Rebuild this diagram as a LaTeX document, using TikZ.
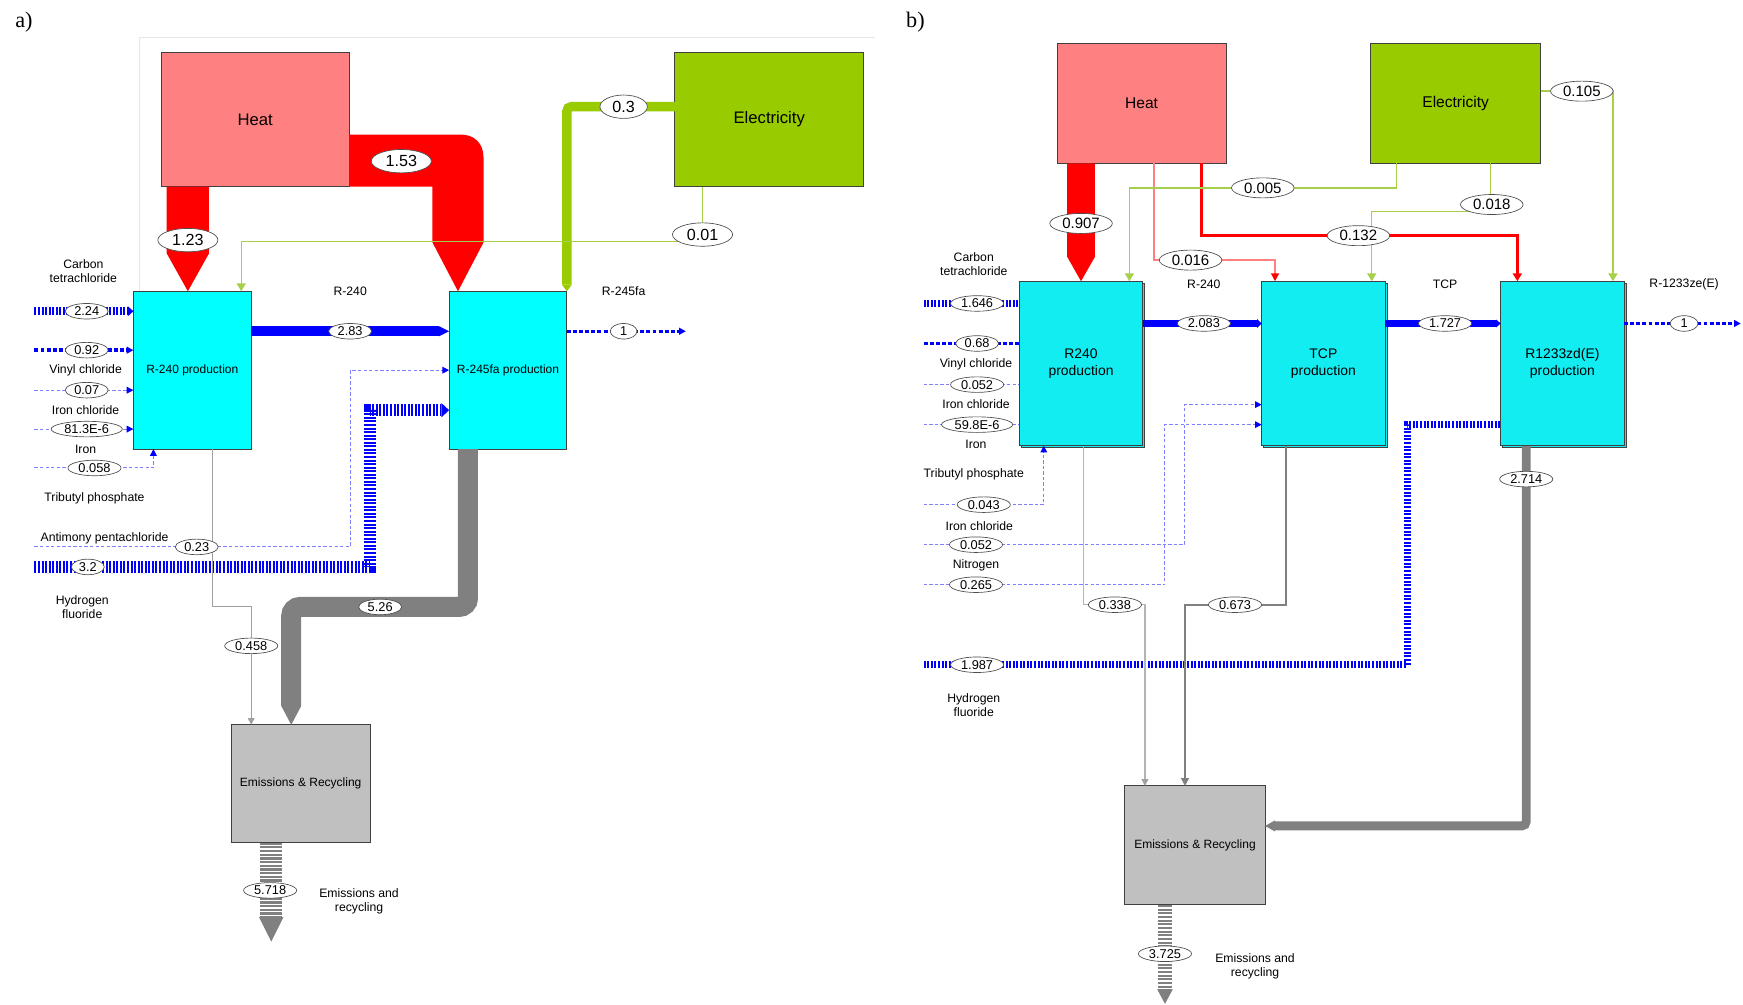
\documentclass[tikz,border=0pt]{standalone}
\usepackage{fontspec}
\setmainfont{Liberation Sans}
\newfontfamily\panelfont{Liberation Serif}
\usetikzlibrary{arrows.meta,shapes.geometric,shadows}
\definecolor{heatc}{HTML}{FF8080}
\definecolor{elc}{HTML}{99CC00}
\definecolor{thingreen}{HTML}{A6CF4A}
\definecolor{cyanA}{HTML}{00FFFF}
\definecolor{cyanB}{HTML}{12EDF2}
\definecolor{emc}{HTML}{C0C0C0}
\definecolor{flowgray}{HTML}{808080}
\definecolor{gryL}{HTML}{B4B4B4}
\definecolor{gryM}{HTML}{A0A0A0}
\definecolor{lightblue}{HTML}{7F7FFF}
\definecolor{framec}{HTML}{E6E6E6}
\tikzset{
  box/.style={draw=black!75, line width=0.9, outer sep=0, inner sep=2, align=center, font=\fontsize{10.8}{13}\selectfont},
  heatbox/.style={box, fill=heatc},
  elbox/.style={box, fill=elc},
  procA/.style={box, fill=cyanA},
  procB/.style={box, fill=cyanB, font=\fontsize{12.5}{15}\selectfont, copy shadow={shadow xshift=2pt, shadow yshift=-2pt}},
  embox/.style={box, fill=emc},
  lab/.style={ellipse, draw=black!70, fill=white, line width=0.6, inner xsep=2.5, inner ysep=0.5, minimum height=14, font=\fontsize{11.5}{11.5}\selectfont},
  biglab/.style={lab, minimum height=21, inner xsep=5, font=\fontsize{14.5}{14.5}\selectfont},
  midlab/.style={lab, minimum height=18, inner xsep=3, font=\fontsize{13.5}{13.5}\selectfont},
  txt/.style={font=\fontsize{11}{12.5}\selectfont, align=center, inner sep=0},
  barcode/.style={draw=blue, line width=7, dash pattern=on 1.8 off 1.4},
  dotflow/.style={draw=blue, line width=3, dash pattern=on 3.5 off 2},
  thinflow/.style={draw=lightblue, line width=0.9, dash pattern=on 3 off 2},
  btip/.style={-{Triangle[length=6pt,width=6pt,color=blue]}},
  gtip/.style={-{Triangle[length=7pt,width=8pt]}},
  paneltag/.style={font=\panelfont\fontsize{20}{20}\selectfont, inner sep=0},
}
\begin{document}
\begin{tikzpicture}[x=1pt,y=-1pt]
\useasboundingbox (0,0) rectangle (1568,904);
\fill[white] (0,0) rectangle (1568,904);

% ================= PANEL A =================
\node[paneltag] (pa) at (21.5,20) {a)};
\node[heatbox, minimum width=169, minimum height=121, font=\fontsize{15}{15}\selectfont] (heatA) at (229.5,107.5) {Heat};
\node[elbox, minimum width=170, minimum height=121, font=\fontsize{15}{15}\selectfont] (elA) at (692,107.5) {Electricity};
\node[procA, minimum width=106, minimum height=142] (r240A) at (173,333) {R-240 production};
\node[procA, minimum width=106, minimum height=142] (r245A) at (457,333) {R-245fa production};
\node[embox, minimum width=125, minimum height=106] (emA) at (270.5,705) {Emissions \& Recycling};

\draw[framec, line width=0.8] (125,0 |- r240A.north) -- (125,34) -- (787,34);

% heat flows
\fill[red] (150,0 |- heatA.south) -- (188,0 |- heatA.south) -- (188,228) -- (169,0 |- r240A.north) -- (150,228) -- cycle;
\fill[red] (heatA.east |- 0,121) -- (414,121) .. controls (427,121) and (435,129) .. (435,142) -- (435,218) -- (412,0 |- r245A.north) -- (389,218) -- (389,168) -- (heatA.east |- 0,168) -- cycle;
% electricity flows
\draw[elc, line width=8.5, rounded corners=4, -{Triangle[length=6pt,width=9pt,line width=0pt]}] (elA.west |- 0,96) -- (510,96) -- (510,0 |- r245A.north);
\draw[thingreen, line width=1.2, gtip] (632,0 |- elA.south) -- (632,217) -- (217,217) -- (217,0 |- r240A.north);
% main product flow
\draw[blue, line width=9, -{Triangle[length=9pt,width=9pt,line width=0pt]}] (r240A.east |- 0,298) -- (r245A.west |- 0,298);
\coordinate (outA) at (617,298);
\draw[dotflow, btip] (r245A.east |- 0,298) -- (outA);
% inputs
\coordinate (inA1) at (31,280);
\coordinate (inA2) at (31,315);
\coordinate (inA3) at (31,351);
\coordinate (inA4) at (31,386);
\coordinate (inA5) at (31,421);
\coordinate (inA6) at (31,492);
\coordinate (inA7) at (31,510);
\draw[barcode, -{Triangle[length=5pt,width=9pt,color=blue,line width=0pt]}] (inA1) -- (r240A.west |- inA1);
\draw[dotflow, btip] (inA2) -- (r240A.west |- inA2);
\draw[thinflow, btip] (inA3) -- (r240A.west |- inA3);
\draw[thinflow, btip] (inA4) -- (r240A.west |- inA4);
\draw[thinflow, btip] (inA5) -- (138,421) -- (138,0 |- r240A.south);
\draw[thinflow, btip] (inA6) -- (315,492) -- (315,333) -- (r245A.west |- 0,333);
\draw[barcode, line width=10.5, -{Triangle[length=7pt,width=13pt,color=blue,line width=0pt]}] (inA7) -- (333,510) -- (333,369) -- (r245A.west |- 0,369);
% outputs
\draw[gryM, line width=1, -{Triangle[length=6pt,width=6pt]}] (191,0 |- r240A.south) -- (191,546) -- (226,546) -- (226,0 |- emA.north);
\draw[flowgray, line width=18, rounded corners=8, -{Triangle[length=17pt,width=18pt,line width=0pt]}] (421,0 |- r245A.south) -- (421,546) -- (262,546) -- (262,0 |- emA.north);
\coordinate (outEA) at (244,847);
\draw[flowgray, line width=20, dash pattern=on 2 off 1.3, -{Triangle[length=22pt,width=22pt,line width=0pt]}] (emA.south -| outEA) -- (outEA);

% labels A
\node[biglab] (l123) at (169,216) {1.23};
\node[biglab] (l153) at (361,145) {1.53};
\node[biglab] (l03) at (561,96) {0.3};
\node[biglab] (l001) at (632,211) {0.01};
\node[lab] (l283) at (315,298) {2.83};
\node[lab, minimum width=24] (l1a) at (561,298) {1};
\node[lab] (l224) at (78,280) {2.24};
\node[lab] (l092) at (78,315) {0.92};
\node[lab] (l007) at (78,351) {0.07};
\node[lab] (l813) at (78,386) {81.3E-6};
\node[lab] (l0058) at (85,421) {0.058};
\node[lab] (l023) at (177,492) {0.23};
\node[lab] (l32) at (79,510) {3.2};
\node[lab] (l0458) at (226,581) {0.458};
\node[lab] (l526) at (342,546) {5.26};
\node[lab] (l5718) at (243,801) {5.718};

\node[txt] (tA1) at (75,244) {Carbon\\tetrachloride};
\node[txt] (tA2) at (77,333) {Vinyl chloride};
\node[txt] (tA3) at (77,369) {Iron chloride};
\node[txt] (tA4) at (77,404) {Iron};
\node[txt] (tA5) at (85,448) {Tributyl phosphate};
\node[txt] (tA6) at (94,484) {Antimony pentachloride};
\node[txt] (tA7) at (74,546) {Hydrogen\\fluoride};
\node[txt] (tA8) at (315,262) {R-240};
\node[txt] (tA9) at (561,262) {R-245fa};
\node[txt] (tA10) at (323,811) {Emissions and\\recycling};

% ================= PANEL B =================
\node[paneltag] (pb) at (823.5,20) {b)};
\node[heatbox, minimum width=152, minimum height=108, font=\fontsize{14}{14}\selectfont] (heatB) at (1027,93) {Heat};
\node[elbox, minimum width=153, minimum height=108, font=\fontsize{14}{14}\selectfont] (elB) at (1309.5,93) {Electricity};
\node[procB, minimum width=111, minimum height=148] (r240B) at (972.5,327) {R240\\production};
\node[procB, minimum width=111, minimum height=148] (tcpB) at (1190.5,327) {TCP\\production};
\node[procB, minimum width=111, minimum height=148] (r1233B) at (1405.5,327) {R1233zd(E)\\production};
\node[embox, minimum width=126, minimum height=107] (emB) at (1075,760.5) {Emissions \& Recycling};

% heat flows
\fill[red] (960,0 |- heatB.south) -- (985,0 |- heatB.south) -- (985,231) -- (972.5,0 |- r240B.north) -- (960,231) -- cycle;
\draw[heatc, line width=1.3, -{Triangle[length=7pt,width=7pt,color=red]}] (1038,0 |- heatB.south) -- (1038,234) -- (1147,234) -- (1147,0 |- tcpB.north);
\draw[red, line width=2.5, -{Triangle[length=7pt,width=8pt]}] (1081,0 |- heatB.south) -- (1081,212) -- (1365,212) -- (1365,0 |- r1233B.north);
% electricity flows
\draw[thingreen, line width=1.2, gtip] (1256,0 |- elB.south) -- (1256,169) -- (1016,169) -- (1016,0 |- r240B.north);
\draw[thingreen, line width=1.2, gtip] (1341,0 |- elB.south) -- (1341,190) -- (1234,190) -- (1234,0 |- tcpB.north);
\draw[thingreen, line width=2, gtip] (elB.east |- 0,82) -- (1451,82) -- (1451,0 |- r1233B.north);
% product flows
\draw[blue, line width=7, -{Triangle[length=4pt,width=8pt,line width=0pt]}] (r240B.east |- 0,291) -- (tcpB.west |- 0,291);
\draw[blue, line width=6, -{Triangle[length=4pt,width=7pt,line width=0pt]}] (tcpB.east |- 0,291) -- (r1233B.west |- 0,291);
\coordinate (outB) at (1566,291);
\draw[dotflow, btip] (r1233B.east |- outB) -- (outB);
% inputs
\coordinate (inB1) at (831,273);
\coordinate (inB2) at (831,309);
\coordinate (inB3) at (831,346);
\coordinate (inB4) at (831,382);
\coordinate (inB5) at (831,454);
\coordinate (inB6) at (831,490);
\coordinate (inB7) at (831,526);
\coordinate (inB8) at (831,598);
\draw[barcode, line width=6] (inB1) -- (r240B.west |- inB1);
\draw[dotflow] (inB2) -- (r240B.west |- inB2);
\draw[thinflow] (inB3) -- (r240B.west |- inB3);
\draw[thinflow] (inB4) -- (r240B.west |- inB4);
\draw[thinflow, btip] (inB5) -- (939,454) -- (939,0 |- r240B.south);
\draw[thinflow, btip] (inB6) -- (1066,490) -- (1066,364) -- (tcpB.west |- 0,364);
\draw[thinflow, btip] (inB7) -- (1048,526) -- (1048,382) -- (tcpB.west |- 0,382);
\draw[barcode, line width=6] (inB8) -- (1266,598) -- (1266,382) -- (r1233B.west |- 0,382);
% outputs
\draw[gryL, line width=1, -{Triangle[length=6pt,width=6pt,color=gryM]}] (975,0 |- r240B.south) -- (975,544) -- (1030,544) -- (1030,0 |- emB.north);
\draw[flowgray, line width=2, -{Triangle[length=7pt,width=7pt]}] (1157,0 |- tcpB.south) -- (1157,544) -- (1066,544) -- (1066,0 |- emB.north);
\draw[flowgray, line width=8, rounded corners=4, -{Triangle[length=9pt,width=10pt,line width=0pt]}] (1373,0 |- r1233B.south) -- (1373,743) -- (emB.east |- 0,743);
\coordinate (outEB) at (1048,903);
\draw[flowgray, line width=12, dash pattern=on 2 off 1.3, -{Triangle[length=13pt,width=14pt,line width=0pt]}] (emB.south -| outEB) -- (outEB);

% labels B
\node[midlab] (m0907) at (972.5,201) {0.907};
\node[midlab] (m0016) at (1071,234) {0.016};
\node[midlab] (m0132) at (1222,212) {0.132};
\node[midlab] (m0005) at (1136,169) {0.005};
\node[midlab] (m0018) at (1342,184) {0.018};
\node[midlab] (m0105) at (1423,82) {0.105};
\node[lab] (m2083) at (1083,291) {2.083};
\node[lab] (m1727) at (1300,291) {1.727};
\node[lab, minimum width=25] (m1) at (1515,291) {1};
\node[lab] (m1646) at (879,273) {1.646};
\node[lab] (m068) at (879,309) {0.68};
\node[lab] (m0052a) at (879,346) {0.052};
\node[lab] (m598) at (879,382) {59.8E-6};
\node[lab] (m0043) at (885,454) {0.043};
\node[lab] (m0052b) at (878,490) {0.052};
\node[lab] (m0265) at (878,526) {0.265};
\node[lab] (m0338) at (1003,544) {0.338};
\node[lab] (m0673) at (1111,544) {0.673};
\node[lab] (m2714) at (1373,431) {2.714};
\node[lab] (m1987) at (879,598) {1.987};
\node[lab] (m3725) at (1048,858) {3.725};

\node[txt] (tB1) at (876,238) {Carbon\\tetrachloride};
\node[txt] (tB2) at (878,328) {Vinyl chloride};
\node[txt] (tB3) at (878,364) {Iron chloride};
\node[txt] (tB4) at (878,400) {Iron};
\node[txt] (tB5) at (876,427) {Tributyl phosphate};
\node[txt] (tB6) at (881,473) {Iron chloride};
\node[txt] (tB7) at (878,509) {Nitrogen};
\node[txt] (tB8) at (876,634) {Hydrogen\\fluoride};
\node[txt] (tB9) at (1083,256) {R-240};
\node[txt] (tB10) at (1300,256) {TCP};
\node[txt] (tB11) at (1515,256) {R-1233ze(E)};
\node[txt] (tB12) at (1129,869) {Emissions and\\recycling};
\end{tikzpicture}
\end{document}
